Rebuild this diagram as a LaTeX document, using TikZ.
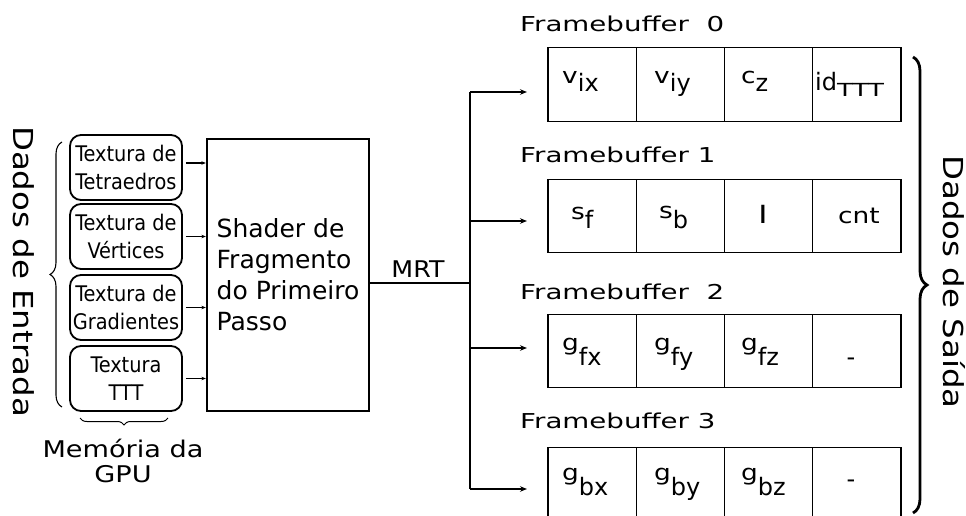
\documentclass[tikz,border=0pt]{standalone}
\usepackage{fontspec}
\setmainfont{DejaVu Sans}
\newfontfamily\fA{DejaVu Sans}
\newfontfamily\fC{DejaVu Sans Condensed}
\newfontfamily\fW[FakeStretch=1.35]{DejaVu Sans}
\newfontfamily\fS[FakeStretch=1.45]{DejaVu Sans}
\newfontfamily\fT[FakeStretch=1.2]{DejaVu Sans}
\newfontfamily\fL[FakeStretch=1.18]{DejaVu Sans}
\newfontfamily\fM[FakeStretch=1.1]{DejaVu Sans}
\usetikzlibrary{arrows.meta,decorations.pathreplacing}
\newcommand\mainf{\fT\fontsize{22}{22}\selectfont}
\newcommand\subf{\fA\fontsize{24}{24}\selectfont}
\newcommand\cc[3]{{\mainf #1}\raisebox{-#3pt}{\subf #2}}
\begin{document}
\begin{tikzpicture}[x=1pt,y=-1pt,
  tbox/.style={draw, line width=1.8pt, rounded corners=11pt, minimum width=112pt, minimum height=65pt, inner sep=0pt, align=center, font=\fC\fontsize{21.5}{28.5}\selectfont},
  cell/.style={draw, line width=1.3pt, minimum width=88.25pt, minimum height=73.5pt, inner sep=0pt},
  ct/.style={anchor=base west, inner sep=0pt},
  fb/.style={anchor=base west, inner sep=0pt, font=\fW\fontsize{20.5}{20.5}\selectfont},
  side/.style={rotate=-90, anchor=base, inner sep=0pt, font=\fL\fontsize{27.5}{27.5}\selectfont},
  sarr/.style={line width=1.1pt, -{Stealth[length=4.5pt,width=3.5pt]}, shorten <=3pt},
  barr/.style={line width=1.3pt, -{Stealth[length=7pt,width=5.5pt]}},
  conn/.style={line width=1.3pt}]
\useasboundingbox (0,0) rectangle (966,516);

% input textures
\node[tbox] (b1) at (126,167.5) {Textura de\\Tetraedros};
\node[tbox] (b2) at (126,236.5) {Textura de\\Vértices};
\node[tbox] (b3) at (126,307.5) {Textura de\\Gradientes};
\node[tbox] (b4) at (126,378.5) {Textura\\TTT};

% shader
\node[draw, line width=2.3pt, minimum width=162pt, minimum height=272pt, inner sep=0pt, align=left,
      font=\fA\fontsize{25}{31}\selectfont] (sh) at (288,275) {Shader de\\Fragmento\\do Primeiro\\Passo};

\draw[sarr] ([yshift=4.5pt]b1.east) -- ([yshift=4.5pt]b1.east -| sh.west);
\draw[sarr] (b2.east) -- (b2.east -| sh.west);
\draw[sarr] (b3.east) -- (b3.east -| sh.west);
\draw[sarr] (b4.east) -- (b4.east -| sh.west);

% braces and side labels
\draw[decorate, decoration={brace, amplitude=12pt}, line width=1.1pt] (62,407) -- (62,142);
\draw[decorate, decoration={brace, amplitude=7pt}, line width=1pt] (168,418) -- (80,418);
\draw[decorate, decoration={brace, amplitude=14pt}, line width=2.8pt] (913,57) -- (913,513);
\node[side] (din) at (13,271.5) {Dados de Entrada};
\node[side] (dout) at (943,282) {Dados de Saída};
\node[font=\fL\fontsize{23}{25}\selectfont, align=center, anchor=north, inner sep=0pt] (gpu) at (123,438.5) {Memória da\\GPU};

% MRT
\coordinate (j) at (470,283);
\coordinate (jt) at (470,92);
\coordinate (jb) at (470,489);
\draw[conn] (sh.east |- j) -- (j);
\draw[conn] (jt) -- (jb);
\node[font=\fM\fontsize{23}{23}\selectfont, anchor=base, inner sep=0pt] (mrt) at (418,277) {MRT};
\coordinate (e0) at (527,92);
\coordinate (e1) at (527,221);
\coordinate (e2) at (527,348);
\coordinate (e3) at (527,489);
\draw[barr] (jt) -- (e0);
\draw[barr] (j |- e1) -- (e1);
\draw[barr] (j |- e2) -- (e2);
\draw[barr] (jb) -- (e3);

% framebuffers
\node[fb] (fb0) at (520,32) {Framebuffer\ \ 0};
\node[fb] (fb1) at (520,162) {Framebuffer 1};
\node[fb] (fb2) at (520,299) {Framebuffer\ \ 2};
\node[fb] (fb3) at (520,428) {Framebuffer 3};
\foreach \r/\y in {0/84.5,1/216,2/351,3/484}
  \foreach \c in {0,1,2,3}
    \node[cell] (t\r\c) at ({592.1+88.25*\c},\y) {};

% table 0
\node[ct] (c00) at (562,84) {\cc{v}{ix}{8}};
\node[ct] (c01) at (654,84) {\cc{v}{iy}{8}};
\node[ct] (c02) at (741,84) {\cc{c}{z}{8}};
\node[ct] (c03) at (815,91) {{\subf id}\raisebox{-6pt}{\fS\fontsize{18}{18}\selectfont TTT}};
% table 1
\node[ct] (c10) at (571,219) {\cc{s}{f}{9}};
\node[ct] (c11) at (659,218) {\cc{s}{b}{10}};
\node[ct] (c12) at (758,223) {\fS\fontsize{24}{24}\selectfont l};
\node[ct] (c13) at (838,223) {\fT\fontsize{22}{22}\selectfont cnt};
% table 2
\node[ct] (c20) at (562,350) {\cc{g}{fx}{15}};
\node[ct] (c21) at (654,350) {\cc{g}{fy}{15}};
\node[ct] (c22) at (741,350) {\cc{g}{fz}{15}};
\node[anchor=base, inner sep=0pt, font=\subf] (c23) at (851,365) {-};
% table 3
\node[ct] (c30) at (562,480) {\cc{g}{bx}{15}};
\node[ct] (c31) at (654,480) {\cc{g}{by}{15}};
\node[ct] (c32) at (741,480) {\cc{g}{bz}{15}};
\node[anchor=base, inner sep=0pt, font=\subf] (c33) at (851,487) {-};
\end{tikzpicture}
\end{document}
